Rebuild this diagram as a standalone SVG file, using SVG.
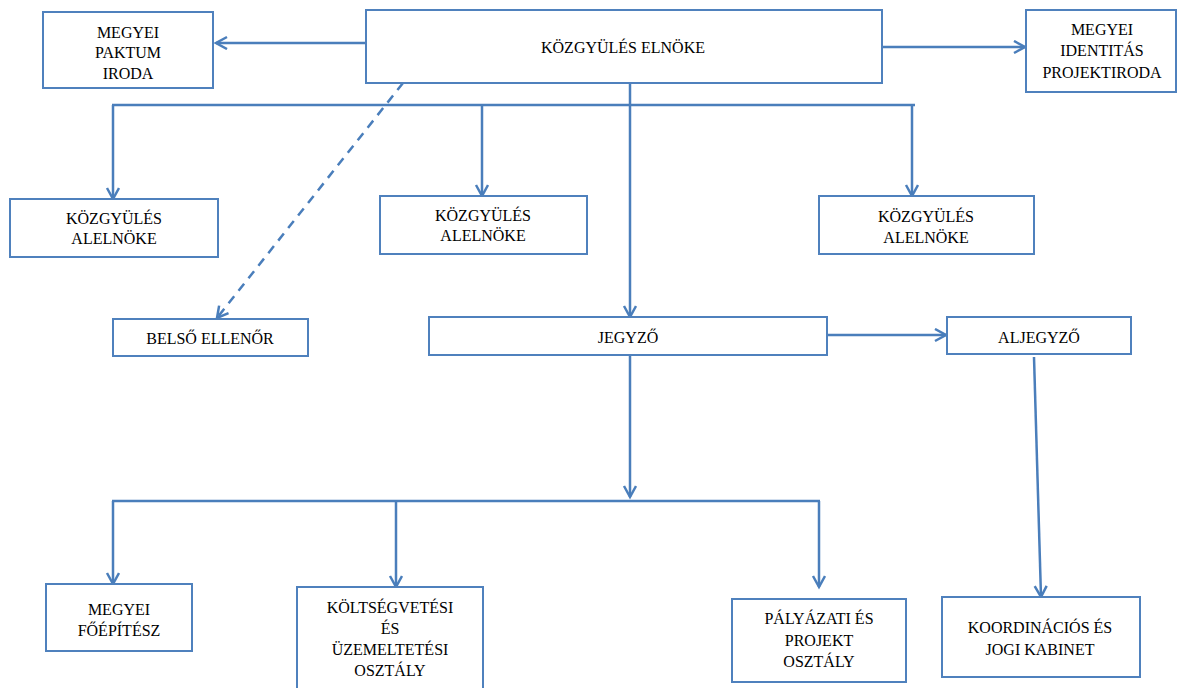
<svg xmlns="http://www.w3.org/2000/svg" width="1189" height="688" viewBox="0 0 1189 688">
<style>
.box{fill:#ffffff;stroke:#4f81bd;stroke-width:2}
.t{font-family:'Liberation Serif','Noto Serif','DejaVu Serif','FreeSerif','Tinos',serif;font-size:16px;fill:#000;text-anchor:middle}
.c{fill:none;stroke:#4a7ebb;stroke-width:2.5}
.a{marker-end:url(#arr)}
.d{stroke-dasharray:9,7}
</style>
<defs>
<marker id="arr" markerUnits="userSpaceOnUse" markerWidth="16" markerHeight="16" refX="12" refY="7" orient="auto">
<path d="M1,1 L12,7 L1,13" fill="none" stroke="#4a7ebb" stroke-width="2.5"/>
</marker>
</defs>
<rect width="1189" height="688" fill="#ffffff"/>
<g id="connectors">
<line class="c a" x1="366" y1="43" x2="216" y2="43"/>
<line class="c a" x1="882" y1="47" x2="1025" y2="47"/>
<line class="c" x1="112" y1="105" x2="915" y2="105"/>
<line class="c a" x1="113" y1="105" x2="113" y2="199"/>
<line class="c a" x1="482" y1="105" x2="482" y2="196"/>
<line class="c a" x1="912" y1="105" x2="912" y2="196"/>
<line class="c a d" x1="403" y1="83" x2="217" y2="318"/>
<line class="c a" x1="630" y1="83" x2="630" y2="317"/>
<line class="c a" x1="827" y1="335" x2="946" y2="335"/>
<line class="c a" x1="630" y1="355" x2="630" y2="497"/>
<line class="c" x1="112" y1="501" x2="820" y2="501"/>
<line class="c a" x1="113" y1="501" x2="113" y2="584"/>
<line class="c a" x1="396" y1="501" x2="396" y2="587"/>
<line class="c a" x1="819" y1="501" x2="819" y2="587"/>
<line class="c a" x1="1034" y1="357" x2="1041" y2="597"/>
</g>
<g id="paktum">
<rect class="box" x="43" y="12" width="170" height="76"/>
<text class="t" x="128" y="37.5">MEGYEI</text>
<text class="t" x="128" y="57.5">PAKTUM</text>
<text class="t" x="128" y="78.5">IRODA</text>
</g>
<g id="elnoke">
<rect class="box" x="366" y="10" width="516" height="73"/>
<text class="t" x="623" y="52.5">KÖZGYÜLÉS ELNÖKE</text>
</g>
<g id="identitas">
<rect class="box" x="1026" y="10" width="150" height="82"/>
<text class="t" x="1102" y="34.5">MEGYEI</text>
<text class="t" x="1102" y="55.5">IDENTITÁS</text>
<text class="t" x="1102" y="77.5">PROJEKTIRODA</text>
</g>
<g id="alelnoke1">
<rect class="box" x="10" y="199" width="208" height="58"/>
<text class="t" x="114" y="223.5">KÖZGYÜLÉS</text>
<text class="t" x="114" y="243.5">ALELNÖKE</text>
</g>
<g id="alelnoke2">
<rect class="box" x="380" y="196" width="207" height="58"/>
<text class="t" x="483" y="220.5">KÖZGYÜLÉS</text>
<text class="t" x="483" y="240.5">ALELNÖKE</text>
</g>
<g id="alelnoke3">
<rect class="box" x="819" y="196" width="215" height="58"/>
<text class="t" x="926" y="221.5">KÖZGYÜLÉS</text>
<text class="t" x="926" y="242.5">ALELNÖKE</text>
</g>
<g id="belso">
<rect class="box" x="113" y="319" width="195" height="37"/>
<text class="t" x="210" y="343.5">BELSŐ ELLENŐR</text>
</g>
<g id="jegyzo">
<rect class="box" x="429" y="317" width="398" height="38"/>
<text class="t" x="628" y="342.5">JEGYZŐ</text>
</g>
<g id="aljegyzo">
<rect class="box" x="947" y="317" width="184" height="37"/>
<text class="t" x="1039" y="342.5">ALJEGYZŐ</text>
</g>
<g id="foepitesz">
<rect class="box" x="46" y="584" width="146" height="67"/>
<text class="t" x="119" y="614.5">MEGYEI</text>
<text class="t" x="119" y="635.5">FŐÉPÍTÉSZ</text>
</g>
<g id="koltsegvetesi">
<rect class="box" x="297" y="587" width="186" height="106"/>
<text class="t" x="390" y="612.5">KÖLTSÉGVETÉSI</text>
<text class="t" x="390" y="633.5">ÉS</text>
<text class="t" x="390" y="654.5">ÜZEMELTETÉSI</text>
<text class="t" x="390" y="675.5">OSZTÁLY</text>
</g>
<g id="palyazati">
<rect class="box" x="732" y="599" width="174" height="83"/>
<text class="t" x="819" y="623.5">PÁLYÁZATI ÉS</text>
<text class="t" x="819" y="645.5">PROJEKT</text>
<text class="t" x="819" y="666.5">OSZTÁLY</text>
</g>
<g id="koordinacios">
<rect class="box" x="942" y="597" width="198" height="80"/>
<text class="t" x="1040" y="632.5">KOORDINÁCIÓS ÉS</text>
<text class="t" x="1040" y="654.5">JOGI KABINET</text>
</g>
</svg>
